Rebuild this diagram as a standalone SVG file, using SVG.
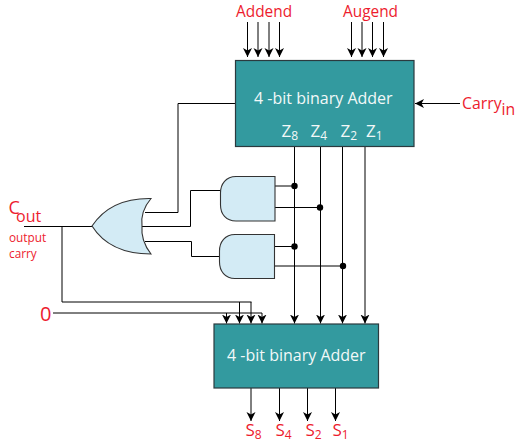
<svg xmlns="http://www.w3.org/2000/svg" width="524" height="447" viewBox="0 0 524 447">
<style>
text{font-family:"Open Sans","Noto Sans",sans-serif}
.r{fill:#ed1c2e}
.w{fill:#f2f8f8}
.t{font-size:16px}
.l{font-size:15.4px}
.z{font-size:17px}
.s{font-size:12px}
.box{fill:#339a9f;stroke:#2b3a3e;stroke-width:1.2}
.gate{fill:#d3ebf5;stroke:#333;stroke-width:1.1}
.wire{fill:none;stroke:#000;stroke-width:1}
.arr{fill:none;stroke:#000;stroke-width:1;marker-end:url(#a)}
</style>
<defs>
<marker id="a" markerUnits="userSpaceOnUse" markerWidth="10" markerHeight="10" refX="9" refY="5" orient="auto">
<path d="M0 0.5L9 5L0 9.500L2.500 5Z" fill="#000"/>
</marker>
</defs>
<g id="connectors">
<path class="arr" d="M247.500 22V57"/>
<path class="arr" d="M258 22V57"/>
<path class="arr" d="M269 22V57"/>
<path class="arr" d="M279.500 22V57"/>
<path class="arr" d="M351.500 22V57"/>
<path class="arr" d="M362 22V57"/>
<path class="arr" d="M372.500 22V57"/>
<path class="arr" d="M383.500 22V57"/>
<path class="arr" d="M460 103.500H415"/>
<path class="wire" d="M235 103.500H178V212.500H145"/>
<path class="wire" d="M142 226.500H190.500V190.500H220"/>
<path class="wire" d="M145 241.500H191.500V256.500H220"/>
<path class="wire" d="M24 226.500H92"/>
<path class="wire" d="M62 226V302H251.500"/>
<path class="wire" d="M53 313H262"/>
<path class="arr" d="M226.500 313V323.500"/>
<path class="arr" d="M239.500 302V323.500"/>
<path class="arr" d="M251 302V323.500"/>
<path class="arr" d="M262 313V323.500"/>
<path class="arr" d="M294.500 146.500V323.500"/>
<path class="arr" d="M320.500 146.500V323.500"/>
<path class="arr" d="M342.500 146.500V323.500"/>
<path class="arr" d="M365 146.500V323.500"/>
<path class="wire" d="M275 186H294.500M275 207.500H320M274.500 246.500H294.500M274.500 266H343"/>
<path class="arr" d="M251 388V421"/>
<path class="arr" d="M279.500 388V421"/>
<path class="arr" d="M307.500 388V421"/>
<path class="arr" d="M335.500 388V421"/>
<circle cx="294.500" cy="186" r="3.200"/>
<circle cx="320" cy="207.500" r="3.200"/>
<circle cx="294.500" cy="246.500" r="3.200"/>
<circle cx="343" cy="266" r="3.200"/>
</g>
<g id="adder-top">
<rect class="box" x="235.500" y="60.500" width="178.500" height="86"/>
<text class="w t" x="254" y="104">4 -bit binary Adder</text>
<text class="w z" x="281.500" y="137">Z<tspan class="s" dy="3">8</tspan></text>
<text class="w z" x="310.500" y="137">Z<tspan class="s" dy="3">4</tspan></text>
<text class="w z" x="340.500" y="137">Z<tspan class="s" dy="3">2</tspan></text>
<text class="w z" x="366" y="137">Z<tspan class="s" dy="3">1</tspan></text>
</g>
<g id="adder-bottom">
<rect class="box" x="214" y="324" width="164.500" height="64"/>
<text class="w t" x="227" y="361">4 -bit binary Adder</text>
</g>
<g id="or-gate">
<path class="gate" d="M92 226C104 208 124 198 151 198.500C143 208 141 218 142 226C141 236 144 245 151 254C124 254 104 245 92 226Z"/>
</g>
<g id="and-gate-1">
<path class="gate" d="M275 176.500H236C226 176.500 220.500 184 220.500 193V205C220.500 214 226 221 236 221H275Z"/>
</g>
<g id="and-gate-2">
<path class="gate" d="M274.500 234.500H235C225 234.500 219.500 242 219.500 251V262C219.500 271 225 278.500 235 278.500H274.500Z"/>
</g>
<g id="labels">
<text class="r l" x="236" y="17">Addend</text>
<text class="r l" x="343" y="17">Augend</text>
<text class="r" x="462" y="109" font-size="15.800">Carry<tspan dy="6">in</tspan></text>
<text class="r" x="8.500" y="214" font-size="18">C</text>
<text class="r t" x="16" y="222">out</text>
<text class="r" x="9" y="241.500" font-size="11.800">output</text>
<text class="r" x="9" y="257.500" font-size="11.800">carry</text>
<text class="r" x="40" y="321" font-size="20">0</text>
<text class="r z" x="245.500" y="436">S<tspan class="s" dy="3">8</tspan></text>
<text class="r z" x="275.500" y="436">S<tspan class="s" dy="3">4</tspan></text>
<text class="r z" x="305.500" y="436">S<tspan class="s" dy="3">2</tspan></text>
<text class="r z" x="332.500" y="436">S<tspan class="s" dy="3">1</tspan></text>
</g>
</svg>
